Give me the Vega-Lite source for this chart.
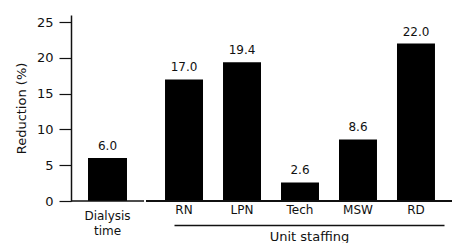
{
  "$schema": "https://vega.github.io/schema/vega-lite/v6.json",
  "padding": {"left": 15, "top": 15, "right": 0, "bottom": 0},
  "spacing": 0,
  "config": {
    "view": {"stroke": null},
    "font": "DejaVu Sans",
    "axis": {"labelColor": "#111", "titleColor": "#111", "domainColor": "#111", "tickColor": "#111", "grid": false, "labelFont": "DejaVu Sans", "titleFont": "DejaVu Sans", "titleFontWeight": "normal"}
  },
  "datasets": {
    "dialysis": [{"category": "Dialysis time", "reduction": 6.0}],
    "staffing": [
      {"category": "RN", "reduction": 17.0},
      {"category": "LPN", "reduction": 19.4},
      {"category": "Tech", "reduction": 2.6},
      {"category": "MSW", "reduction": 8.6},
      {"category": "RD", "reduction": 22.0}
    ]
  },
  "hconcat": [
    {
      "width": 73,
      "height": 186,
      "data": {"name": "dialysis"},
      "layer": [
        {
          "mark": {"type": "bar", "color": "#000"},
          "encoding": {
            "x": {"field": "category", "type": "nominal", "sort": null, "scale": {"paddingInner": 0.345, "paddingOuter": 0.2857},
              "axis": {"title": null, "domain": false, "ticks": false, "tickSize": 0, "labelAngle": 0, "labelFontSize": 12, "labelPadding": 9, "labelLineHeight": 15, "labelExpr": "split(datum.label, ' ')"}},
            "y": {"field": "reduction", "type": "quantitative", "scale": {"domain": [0, 25]},
              "axis": {"values": [0, 5, 10, 15, 20, 25], "labelOverlap": false, "title": "Reduction (%)", "titleFontSize": 13, "titlePadding": 8, "labelFontSize": 13, "labelPadding": 6, "tickSize": 12, "domainWidth": 1.5, "tickWidth": 1.2}}
          }
        },
        {
          "mark": {"type": "text", "baseline": "alphabetic", "dy": -8, "fontSize": 12, "color": "#111"},
          "encoding": {
            "x": {"field": "category", "type": "nominal", "sort": null},
            "y": {"field": "reduction", "type": "quantitative",
              "axis": {"values": [0, 5, 10, 15, 20, 25], "labelOverlap": false, "title": "Reduction (%)", "titleFontSize": 13, "titlePadding": 8, "labelFontSize": 13, "labelPadding": 6, "tickSize": 12, "domainWidth": 1.5, "tickWidth": 1.2}},
            "text": {"field": "reduction", "type": "quantitative", "format": ".1f"}
          }
        },
        {
          "mark": {"type": "rule", "color": "#111", "strokeWidth": 1.5},
          "encoding": {"y": {"datum": 0, "type": "quantitative",
            "axis": {"values": [0, 5, 10, 15, 20, 25], "labelOverlap": false, "title": "Reduction (%)", "titleFontSize": 13, "titlePadding": 8, "labelFontSize": 13, "labelPadding": 6, "tickSize": 12, "domainWidth": 1.5, "tickWidth": 1.2}}}
        }
      ]
    },
    {
      "width": 308,
      "height": 186,
      "data": {"name": "staffing"},
      "layer": [
        {
          "mark": {"type": "bar", "color": "#000"},
          "encoding": {
            "x": {"field": "category", "type": "nominal", "sort": null, "scale": {"paddingInner": 0.345, "paddingOuter": 0.328},
              "axis": {"title": "Unit staffing", "titleFontSize": 13, "titlePadding": 5, "titleX": 163, "domain": true, "domainDash": [0, 28, 270, 1000], "domainWidth": 1.5, "offset": 24, "ticks": false, "tickSize": 0, "labelAngle": 0, "labelFontSize": 12, "labelPadding": -21}},
            "y": {"field": "reduction", "type": "quantitative", "scale": {"domain": [0, 25]}, "axis": null}
          }
        },
        {
          "mark": {"type": "text", "baseline": "alphabetic", "dy": -8, "fontSize": 12, "color": "#111"},
          "encoding": {
            "x": {"field": "category", "type": "nominal", "sort": null},
            "y": {"field": "reduction", "type": "quantitative", "axis": null},
            "text": {"field": "reduction", "type": "quantitative", "format": ".1f"}
          }
        },
        {
          "mark": {"type": "rule", "color": "#111", "strokeWidth": 1.5},
          "encoding": {"y": {"datum": 0, "type": "quantitative", "axis": null}}
        }
      ]
    }
  ]
}
